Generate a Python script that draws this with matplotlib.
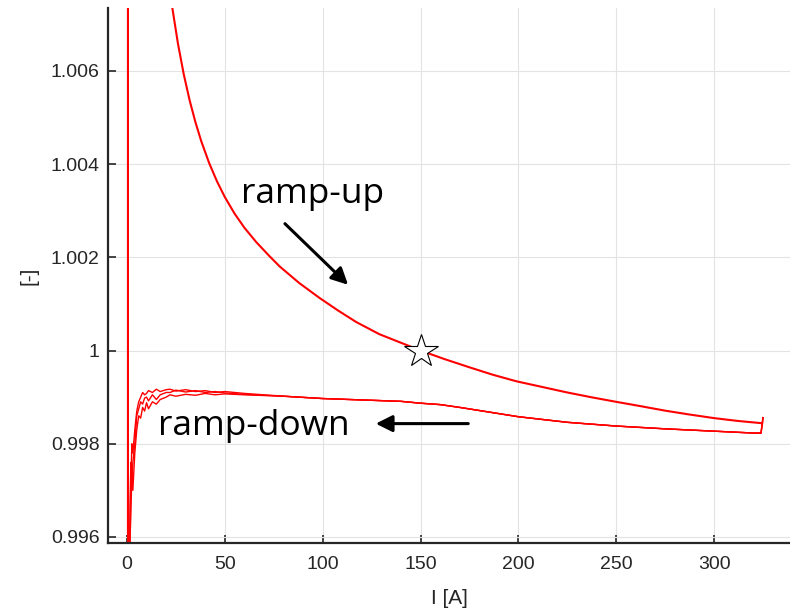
import numpy as np
import matplotlib.pyplot as plt

# ramp-up branch: current [A] vs normalised ratio [-]
I_up = [0.5, 0.5, 3, 6, 10, 15, 20, 23.2, 26, 29, 32, 35, 38, 42, 46, 50,
        55, 60, 66, 72.7, 78, 88, 98.4, 108, 117.2, 129, 141, 150,
        162, 175, 187, 199, 212, 225, 237, 248.6, 262, 275, 287, 300, 312, 324.6]
r_up = [0.9955, 1.045, 1.03, 1.02, 1.0145, 1.0108, 1.008405, 1.007345, 1.006596, 1.005930,
        1.005371, 1.004896, 1.004486, 1.004021, 1.003629, 1.003293, 1.002937, 1.002635,
        1.002329, 1.002030, 1.001805, 1.001449, 1.001128, 1.000855, 1.000610, 1.000350,
        1.000150, 1.0, 0.999820, 0.999640, 0.999480, 0.999340, 0.999220, 0.999100,
        0.999000, 0.998910, 0.998810, 0.998710, 0.998630, 0.998550, 0.998490, 0.998440]

# ramp-down branch, three cycles on a shared current grid
I_down = [325, 324, 320, 300, 275, 250, 225, 200, 182, 170, 160, 150, 140, 120, 100, 80,
          60, 50, 45, 40, 35, 30, 25, 22,
          20, 17, 15, 13, 11, 10, 9, 8, 7, 6, 5, 4, 3, 2.5, 2, 1.6, 1.3]
r_down_common = [0.99856, 0.99823, 0.99823, 0.99827, 0.99832, 0.99838, 0.99846, 0.99858,
                 0.99870, 0.99878, 0.99884, 0.99887, 0.99891, 0.99894, 0.99897, 0.99902]
r_down_1 = r_down_common + [0.99908, 0.99912, 0.99910, 0.99914, 0.99912, 0.99916, 0.99913, 0.99917,
                            0.99916, 0.99912, 0.99917, 0.99910, 0.99914, 0.99908, 0.99905, 0.99910,
                            0.99900, 0.99890, 0.99870, 0.99830, 0.99780, 0.99800, 0.99720, 0.99640, 0.99550]
r_down_2 = r_down_common + [0.99906, 0.99909, 0.99912, 0.99910, 0.99914, 0.99911, 0.99915, 0.99910,
                            0.99910, 0.99905, 0.99895, 0.99905, 0.99892, 0.99900, 0.99898, 0.99885,
                            0.99890, 0.99875, 0.99860, 0.99800, 0.99760, 0.99720, 0.99760, 0.99680, 0.99570]
r_down_3 = r_down_common + [0.99905, 0.99907, 0.99905, 0.99908, 0.99904, 0.99906, 0.99902, 0.99905,
                            0.99900, 0.99895, 0.99885, 0.99890, 0.99875, 0.99888, 0.99870, 0.99878,
                            0.99855, 0.99860, 0.99830, 0.99780, 0.99700, 0.99740, 0.99650, 0.99600, 0.99550]

# reference point
I_ref = 150
r_ref = 1.0

xticks = [0, 50, 100, 150, 200, 250, 300]
yticks = [0.996, 0.998, 1.0, 1.002, 1.004, 1.006]
ytick_labels = ['0.996', '0.998', '1', '1.002', '1.004', '1.006']

plt.rcParams['font.family'] = ['Liberation Sans', 'DejaVu Sans']

fig = plt.figure(figsize=(7.9, 6.12), dpi=100)
ax = fig.add_axes([0.1367, 0.1127, 0.8633, 0.8743])

ax.plot(I_up, r_up, color='red', lw=1.5)
for r in (r_down_1, r_down_2, r_down_3):
    ax.plot(I_down, r, color='red', lw=1.0)
ax.plot(I_ref, r_ref, marker='*', markersize=25, markerfacecolor='white',
        markeredgecolor='black', markeredgewidth=0.8, linestyle='none', zorder=5)

ann_font = dict(family=['Open Sans', 'DejaVu Sans'], fontsize=25.5, color='black')
ax.text(95, 1.00335, 'ramp-up', ha='center', va='center', **ann_font)
ax.text(65, 0.99838, 'ramp-down', ha='center', va='center', **ann_font)
ax.annotate('', xy=(114, 1.001369), xytext=(79.7, 1.002763),
            arrowprops=dict(arrowstyle='-|>', color='black', lw=2.2, mutation_scale=25))
ax.annotate('', xy=(125.7, 0.998432), xytext=(175.8, 0.998432),
            arrowprops=dict(arrowstyle='-|>', color='black', lw=2.2, mutation_scale=25))

ax.set_xlim(-9.7, 338.8)
ax.set_ylim(0.99587, 1.00735)
ax.set_xticks(xticks)
ax.set_yticks(yticks)
ax.set_yticklabels(ytick_labels)
ax.grid(True, color='#e3e3e3', lw=0.8)
ax.set_axisbelow(True)
ax.tick_params(direction='in', length=6, width=1.2, labelsize=14, colors='#262626')
ax.tick_params(axis='x', pad=9)
ax.tick_params(axis='y', pad=6)
for side in ('top', 'right'):
    ax.spines[side].set_visible(False)
for side in ('left', 'bottom'):
    ax.spines[side].set_linewidth(1.6)
    ax.spines[side].set_color('#262626')

ax.set_xlabel('I [A]', fontsize=15, color='#262626', labelpad=12)
ax.set_ylabel('[-]', fontsize=15, color='#262626', labelpad=9)

fig.savefig('out.png', dpi=100)
